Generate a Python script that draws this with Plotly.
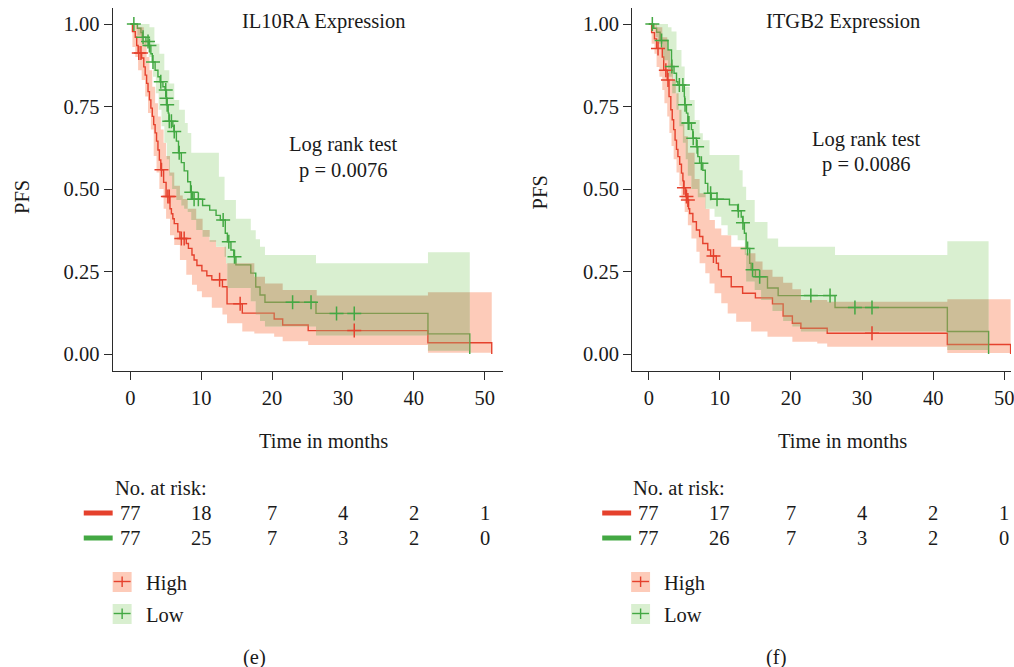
import numpy as np
import plotly.graph_objects as go

W, H = 1014, 667
FONT = "Liberation Serif"
FS = 20.5
TXT = "#1a1a1a"
AX = "#2b2b2b"

RED_LINE = "#E5412D"
GREEN_LINE = "#43A843"
RED_FILL = "#FDCBB9"
GREEN_FILL = "#D9EFD0"
OVERLAP_FILL = "rgba(193,141,95,0.5)"

# ---------------- Panel (e): IL10RA ----------------
il_high_t = [0, 0.3, 0.7, 0.9, 1.1, 1.6, 1.9, 2.1, 2.3, 2.5, 2.7, 2.9, 3.1, 3.3, 3.5, 3.7, 3.9, 4.1, 4.3, 4.7,
             5.05, 5.6, 5.8, 6.0, 6.2, 6.7, 7.0, 7.9, 8.2, 8.7, 9.0, 9.4, 10.1, 10.8, 11.5, 13.0, 13.65, 15.8,
             20.3, 21.5, 25.1, 42.0, 51.0]
il_high_s = [1.0, 0.977, 0.96, 0.935, 0.912, 0.897, 0.87, 0.845, 0.82, 0.795, 0.77, 0.745, 0.72, 0.695, 0.67,
             0.645, 0.618, 0.588, 0.558, 0.52, 0.477, 0.44, 0.425, 0.41, 0.395, 0.37, 0.35, 0.335, 0.32, 0.30,
             0.285, 0.268, 0.252, 0.237, 0.225, 0.204, 0.152, 0.124, 0.106, 0.088, 0.071, 0.034, 0.0]
il_high_cens = [1.2, 1.5, 4.4, 5.3, 5.5, 7.2, 7.6, 12.6, 15.5, 31.6]
il_high_lo_t = [0, 0.3, 0.7, 1.1, 1.6, 2.1, 2.5, 2.9, 3.3, 3.7, 4.1, 4.7, 5.05, 5.6, 6.2, 7.0, 7.9, 8.7, 9.4, 10.1,
                11.5, 13.0, 13.65, 15.8, 17.5, 20.3, 21.5, 25.1, 42.0, 51.0]
il_high_lo = [1.0, 0.93, 0.9, 0.86, 0.83, 0.78, 0.73, 0.68, 0.60, 0.55, 0.50, 0.44, 0.41, 0.36, 0.33, 0.285, 0.24,
              0.21, 0.19, 0.172, 0.14, 0.12, 0.093, 0.068, 0.062, 0.052, 0.039, 0.027, 0.004, 0.004]
il_high_hi_t = [0, 1.1, 1.9, 2.3, 2.7, 3.1, 3.5, 3.9, 4.3, 4.7, 5.05, 5.6, 6.2, 7.0, 7.4, 8.1, 9.3, 10.2, 11.2,
                12.1, 13.5, 17.5, 19.0, 21.5, 26.3, 42.0, 51.0]
il_high_hi = [1.0, 0.99, 0.95, 0.90, 0.86, 0.81, 0.76, 0.72, 0.68, 0.64, 0.60, 0.55, 0.51, 0.48, 0.47, 0.44, 0.41,
              0.376, 0.345, 0.325, 0.275, 0.234, 0.214, 0.194, 0.177, 0.187, 0.187]

il_low_t = [0, 1.0, 1.5, 1.7, 2.2, 2.6, 2.9, 3.1, 3.5, 3.9, 4.2, 4.6, 4.9, 5.05, 5.15, 5.35, 5.45, 6.0, 6.15, 6.5,
            6.8, 7.2, 7.6, 8.1, 8.5, 8.8, 10.2, 11.2, 12.1, 12.7, 13.4, 13.7, 14.2, 14.6, 14.9, 17.0, 17.7, 18.3,
            19.0, 26.2, 42.0, 47.9]
il_low_s = [1.0, 0.987, 0.974, 0.96, 0.947, 0.935, 0.91, 0.885, 0.86, 0.84, 0.825, 0.81, 0.80, 0.775, 0.755, 0.73,
            0.705, 0.69, 0.674, 0.645, 0.61, 0.58, 0.555, 0.522, 0.49, 0.469, 0.45, 0.436, 0.42, 0.406, 0.366, 0.34,
            0.315, 0.295, 0.27, 0.245, 0.203, 0.179, 0.157, 0.123, 0.061, 0.0]
il_low_cens = [0.5, 1.8, 2.5, 2.7, 3.2, 4.3, 5.0, 5.1, 5.2, 5.5, 5.8, 6.2, 6.9, 8.6, 9.0, 9.6, 13.1, 13.9, 14.7,
               22.9, 25.5, 29.1, 31.6]
il_low_lo_t = [0, 1.0, 1.5, 2.0, 2.6, 3.2, 3.6, 4.0, 4.4, 4.8, 5.15, 5.5, 5.9, 6.5, 7.2, 7.6, 8.1, 8.6, 9.3, 10.2,
               11.2, 12.1, 13.3, 13.5, 13.7, 17.0, 17.7, 18.3, 19.0, 26.2, 42.0, 47.9]
il_low_lo = [1.0, 0.965, 0.95, 0.93, 0.90, 0.84, 0.79, 0.74, 0.69, 0.64, 0.59, 0.54, 0.50, 0.467, 0.45, 0.44, 0.43,
             0.406, 0.376, 0.355, 0.34, 0.325, 0.295, 0.275, 0.20, 0.16, 0.12, 0.10, 0.083, 0.056, 0.01, 0.01]
il_low_hi_t = [0, 2.7, 3.4, 4.1, 4.8, 5.5, 6.2, 6.9, 7.7, 8.1, 8.6, 12.5, 13.3, 14.9, 17.0, 17.7, 18.3, 19.0, 26.2,
               42.0, 47.9]
il_low_hi = [1.0, 0.99, 0.94, 0.91, 0.86, 0.82, 0.77, 0.74, 0.70, 0.67, 0.61, 0.537, 0.467, 0.41, 0.375, 0.348,
             0.325, 0.30, 0.275, 0.308, 0.308]

# ---------------- Panel (f): ITGB2 ----------------
it_high_t = [0, 0.4, 0.8, 1.1, 1.9, 2.1, 2.6, 2.85, 3.1, 3.3, 3.5, 3.7, 3.9, 4.1, 4.35, 4.6, 4.8, 4.9, 5.2, 5.45,
             5.6, 5.75, 6.2, 6.7, 7.15, 7.6, 8.3, 8.7, 9.5, 9.8, 10.2, 11.6, 13.2, 15.0, 17.4, 18.9, 20.2, 21.4,
             25.1, 42.0, 50.9]
it_high_s = [1.0, 0.974, 0.955, 0.926, 0.9, 0.86, 0.83, 0.78, 0.74, 0.71, 0.68, 0.648, 0.62, 0.598, 0.575, 0.548,
             0.525, 0.504, 0.477, 0.467, 0.44, 0.426, 0.401, 0.376, 0.356, 0.335, 0.315, 0.297, 0.275, 0.255, 0.234,
             0.204, 0.184, 0.17, 0.152, 0.115, 0.093, 0.078, 0.063, 0.029, 0.0]
it_high_cens = [1.3, 2.4, 2.7, 4.95, 5.3, 5.5, 9.1, 31.4]
it_high_lo_t = [0, 0.4, 0.8, 1.1, 1.5, 1.9, 2.2, 2.6, 2.9, 3.2, 3.5, 3.9, 4.3, 4.6, 5.05, 5.5, 6.0, 6.7, 7.15, 7.95,
                8.55, 9.25, 10.2, 11.1, 12.3, 14.4, 16.7, 20.2, 23.7, 25.1, 42.0, 50.9]
it_high_lo = [1.0, 0.94, 0.91, 0.87, 0.84, 0.80, 0.76, 0.72, 0.67, 0.63, 0.59, 0.55, 0.51, 0.47, 0.43, 0.39, 0.35,
              0.31, 0.275, 0.245, 0.214, 0.184, 0.154, 0.123, 0.098, 0.068, 0.052, 0.037, 0.032, 0.022, 0.003, 0.003]
it_high_hi_t = [0, 1.1, 1.9, 2.6, 3.0, 3.4, 3.8, 4.2, 4.6, 5.0, 5.5, 6.45, 7.15, 8.0, 8.55, 9.3, 10.2, 11.6, 13.7,
                15.0, 16.0, 17.4, 18.9, 20.2, 21.4, 25.1, 42.0, 50.9]
it_high_hi = [1.0, 0.99, 0.96, 0.92, 0.88, 0.83, 0.79, 0.74, 0.70, 0.66, 0.61, 0.53, 0.487, 0.44, 0.406, 0.38, 0.36,
              0.325, 0.305, 0.28, 0.255, 0.234, 0.216, 0.196, 0.164, 0.158, 0.166, 0.166]

it_low_t = [0, 0.7, 1.1, 1.6, 2.7, 3.2, 3.55, 3.9, 4.1, 5.0, 5.05, 5.3, 5.5, 6.0, 6.2, 6.7, 6.9, 7.15, 7.6, 7.95,
            8.3, 8.8, 11.35, 12.5, 13.0, 13.2, 13.45, 13.7, 14.2, 14.4, 15.0, 16.7, 18.2, 26.2, 42.0, 47.8]
it_low_s = [1.0, 0.987, 0.975, 0.95, 0.921, 0.871, 0.851, 0.825, 0.815, 0.78, 0.755, 0.73, 0.70, 0.68, 0.654, 0.628,
            0.598, 0.578, 0.557, 0.517, 0.487, 0.469, 0.452, 0.434, 0.415, 0.398, 0.366, 0.32, 0.275, 0.255, 0.234,
            0.200, 0.177, 0.141, 0.068, 0.0]
it_low_cens = [0.5, 1.8, 3.25, 4.3, 4.8, 5.1, 5.55, 5.65, 6.25, 6.8, 7.4, 8.7, 9.6, 12.6, 13.25, 13.9, 14.6, 15.6,
               22.8, 25.5, 29.0, 31.4]
it_low_lo_t = [0, 1.0, 1.3, 2.0, 2.7, 3.3, 3.9, 4.3, 4.8, 5.2, 5.5, 6.0, 6.9, 7.95, 9.25, 10.2, 11.1, 12.5, 13.5,
               13.7, 14.9, 15.8, 17.4, 18.9, 20.2, 21.4, 42.0, 47.8]
it_low_lo = [1.0, 0.96, 0.94, 0.89, 0.84, 0.79, 0.74, 0.69, 0.64, 0.59, 0.54, 0.50, 0.475, 0.44, 0.416, 0.39, 0.36,
             0.345, 0.30, 0.22, 0.194, 0.164, 0.13, 0.10, 0.083, 0.068, 0.012, 0.012]
it_low_hi_t = [0, 2.7, 3.2, 3.9, 4.6, 5.05, 5.75, 6.45, 7.15, 7.6, 8.55, 12.75, 13.2, 13.7, 14.9, 16.7, 18.2, 26.2,
               42.0, 47.8]
it_low_hi = [1.0, 0.99, 0.977, 0.921, 0.871, 0.81, 0.77, 0.709, 0.669, 0.648, 0.603, 0.557, 0.507, 0.467, 0.40,
             0.35, 0.325, 0.30, 0.342, 0.342]

# risk tables
risk_times = [0, 10, 20, 30, 40, 50]
il_risk_high = [77, 18, 7, 4, 2, 1]
il_risk_low = [77, 25, 7, 3, 2, 0]
it_risk_high = [77, 17, 7, 4, 2, 1]
it_risk_low = [77, 26, 7, 3, 2, 0]

y_ticks = [0, 0.25, 0.5, 0.75, 1.0]
y_ticktext = ["0.00", "0.25", "0.50", "0.75", "1.00"]
x_ticks = [0, 10, 20, 30, 40, 50]


def px(x):
    return x / W


def py(y):
    return 1 - y / H


def step_eval(ts, vs, grid):
    ts = np.asarray(ts, float)
    vs = np.asarray(vs, float)
    idx = np.searchsorted(ts, grid, side="right") - 1
    idx = np.clip(idx, 0, len(vs) - 1)
    return vs[idx]


def band_path(grid, top, bot):
    xs, ys = [], []
    for i in range(len(grid) - 1):
        xs += [grid[i], grid[i + 1]]
        ys += [top[i], top[i]]
    for i in range(len(grid) - 2, -1, -1):
        xs += [grid[i + 1], grid[i]]
        ys += [bot[i], bot[i]]
    return xs, ys


fig = go.Figure()


def add_panel(xa, ya, hi_grp, lo_grp):
    # groups: (t, s, cens, lo_t, lo, hi_t, hi)
    def band(g):
        t, s, c, lt, lv, ht, hv = g
        end = max(lt[-1], ht[-1])
        grid = np.unique(np.concatenate([lt, ht]))
        grid = grid[grid <= end]
        top = step_eval(ht, hv, grid[:-1])
        bot = step_eval(lt, lv, grid[:-1])
        return grid, top, bot

    for g, col in [(hi_grp, RED_FILL), (lo_grp, GREEN_FILL)]:
        grid, top, bot = band(g)
        xs, ys = band_path(grid, top, bot)
        fig.add_trace(go.Scatter(x=xs, y=ys, mode="lines", fill="toself", fillcolor=col,
                                 line=dict(width=0), hoverinfo="skip", showlegend=False,
                                 xaxis=xa, yaxis=ya))
    for g, col in [(hi_grp, RED_LINE), (lo_grp, GREEN_LINE)]:
        t, s = g[0], g[1]
        fig.add_trace(go.Scatter(x=t, y=s, mode="lines", line=dict(color=col, width=1.4, shape="hv"),
                                 hoverinfo="skip", showlegend=False, xaxis=xa, yaxis=ya))
    # overlap of the two confidence bands
    end = min(max(hi_grp[3][-1], hi_grp[5][-1]), max(lo_grp[3][-1], lo_grp[5][-1]))
    grid = np.unique(np.concatenate([hi_grp[3], hi_grp[5], lo_grp[3], lo_grp[5]]))
    grid = grid[grid <= end]
    g0 = grid[:-1]
    top = np.minimum(step_eval(hi_grp[5], hi_grp[6], g0), step_eval(lo_grp[5], lo_grp[6], g0))
    bot = np.maximum(step_eval(hi_grp[3], hi_grp[4], g0), step_eval(lo_grp[3], lo_grp[4], g0))
    bot = np.minimum(bot, top)
    xs, ys = band_path(grid, top, bot)
    fig.add_trace(go.Scatter(x=xs, y=ys, mode="lines", fill="toself", fillcolor=OVERLAP_FILL,
                             line=dict(width=0), hoverinfo="skip", showlegend=False,
                             xaxis=xa, yaxis=ya))
    for g, col in [(hi_grp, RED_LINE), (lo_grp, GREEN_LINE)]:
        t, s, c = g[0], g[1], g[2]
        cy = step_eval(t, s, np.asarray(c, float))
        fig.add_trace(go.Scatter(x=c, y=cy, mode="markers",
                                 marker=dict(symbol="cross-thin", size=10, color=col,
                                             line=dict(width=1.5, color=col)),
                                 hoverinfo="skip", showlegend=False, xaxis=xa, yaxis=ya))


add_panel("x", "y",
          (il_high_t, il_high_s, il_high_cens, il_high_lo_t, il_high_lo, il_high_hi_t, il_high_hi),
          (il_low_t, il_low_s, il_low_cens, il_low_lo_t, il_low_lo, il_low_hi_t, il_low_hi))
add_panel("x2", "y2",
          (it_high_t, it_high_s, it_high_cens, it_high_lo_t, it_high_lo, it_high_hi_t, it_high_hi),
          (it_low_t, it_low_s, it_low_cens, it_low_lo_t, it_low_lo, it_low_hi_t, it_low_hi))

axis_common = dict(showline=True, linecolor=AX, linewidth=1.2, ticks="outside", ticklen=8, tickwidth=1.2,
                   tickcolor=AX, showgrid=False, zeroline=False, ticklabeloverflow="allow",
                   tickfont=dict(family=FONT, size=FS, color=TXT))
ydom = [py(371), py(8)]
yrange = [-0.0515, 1.0485]

fig.update_layout(
    width=W, height=H, margin=dict(l=0, r=0, t=0, b=0),
    paper_bgcolor="white", plot_bgcolor="white", showlegend=False,
    xaxis=dict(domain=[px(113), px(504)], range=[-2.49, 52.52], anchor="y",
               tickvals=x_ticks, **axis_common),
    yaxis=dict(domain=ydom, range=yrange, anchor="x", tickvals=y_ticks, ticktext=y_ticktext,
               **axis_common),
    xaxis2=dict(domain=[px(634), 1.0], range=[(634 - 650.7) / 7.13, (1014 - 650.7) / 7.13], anchor="y2",
                tickvals=x_ticks, **axis_common),
    yaxis2=dict(domain=ydom, range=yrange, anchor="x2", tickvals=y_ticks, ticktext=y_ticktext,
                **axis_common),
)

ann = []
shapes = []


def text(x, y, s, xanchor="center", xref="paper", angle=0):
    ann.append(dict(x=x, y=y, xref=xref, yref="paper", text=s, showarrow=False, xanchor=xanchor,
                    yanchor="middle", textangle=angle, font=dict(family=FONT, size=FS, color=TXT)))


panels = [
    dict(off=0, xref="x", title="IL10RA Expression", title_x=324, lr_x=344, lr_y=145,
         p="p = 0.0076", pfs_y=197, tim_x=324, rh=il_risk_high, rl=il_risk_low, cap="(e)", cap_x=255),
    dict(off=520, xref="x2", title="ITGB2 Expression", title_x=845, lr_x=869, lr_y=140,
         p="p = 0.0086", pfs_y=192, tim_x=845, rh=it_risk_high, rl=it_risk_low, cap="(f)", cap_x=778),
]

for P in panels:
    o = P["off"]
    text(px(P["title_x"]), py(22), P["title"])
    text(px(P["lr_x"]), py(P["lr_y"]), "Log rank test")
    text(px(P["lr_x"]), py(P["lr_y"] + 25), P["p"])
    text(px(22 + o), py(P["pfs_y"]), "PFS", angle=-90)
    text(px(P["tim_x"]), py(441), "Time in months")
    text(px(113 + o), py(488), "No. at risk:", xanchor="left")
    for tt, n in zip(risk_times, P["rh"]):
        text(tt, py(513), str(n), xref=P["xref"])
    for tt, n in zip(risk_times, P["rl"]):
        text(tt, py(538), str(n), xref=P["xref"])
    shapes.append(dict(type="line", xref="paper", yref="paper", x0=px(84 + o), x1=px(113 + o),
                       y0=py(513), y1=py(513), line=dict(color=RED_LINE, width=5)))
    shapes.append(dict(type="line", xref="paper", yref="paper", x0=px(84 + o), x1=px(113 + o),
                       y0=py(538), y1=py(538), line=dict(color=GREEN_LINE, width=5)))
    for yc, fillc, linec, lab in [(582, RED_FILL, RED_LINE, "High"), (614, GREEN_FILL, GREEN_LINE, "Low")]:
        x0, x1 = 113 + o, 132 + o
        shapes.append(dict(type="rect", xref="paper", yref="paper", x0=px(x0), x1=px(x1),
                           y0=py(yc + 10), y1=py(yc - 10), fillcolor=fillc, line=dict(width=0)))
        shapes.append(dict(type="line", xref="paper", yref="paper", x0=px(x0 + 1), x1=px(x1 - 1),
                           y0=py(yc - 0.5), y1=py(yc - 0.5), line=dict(color=linec, width=1.4)))
        shapes.append(dict(type="line", xref="paper", yref="paper", x0=px((x0 + x1) / 2), x1=px((x0 + x1) / 2),
                           y0=py(yc - 5.5), y1=py(yc + 5), line=dict(color=linec, width=1.4)))
        text(px(144 + o), py(yc + 1), lab, xanchor="left")
    text(px(P["cap_x"]), py(657), P["cap"])

fig.update_layout(annotations=ann, shapes=shapes)
fig.write_html("out.html")
